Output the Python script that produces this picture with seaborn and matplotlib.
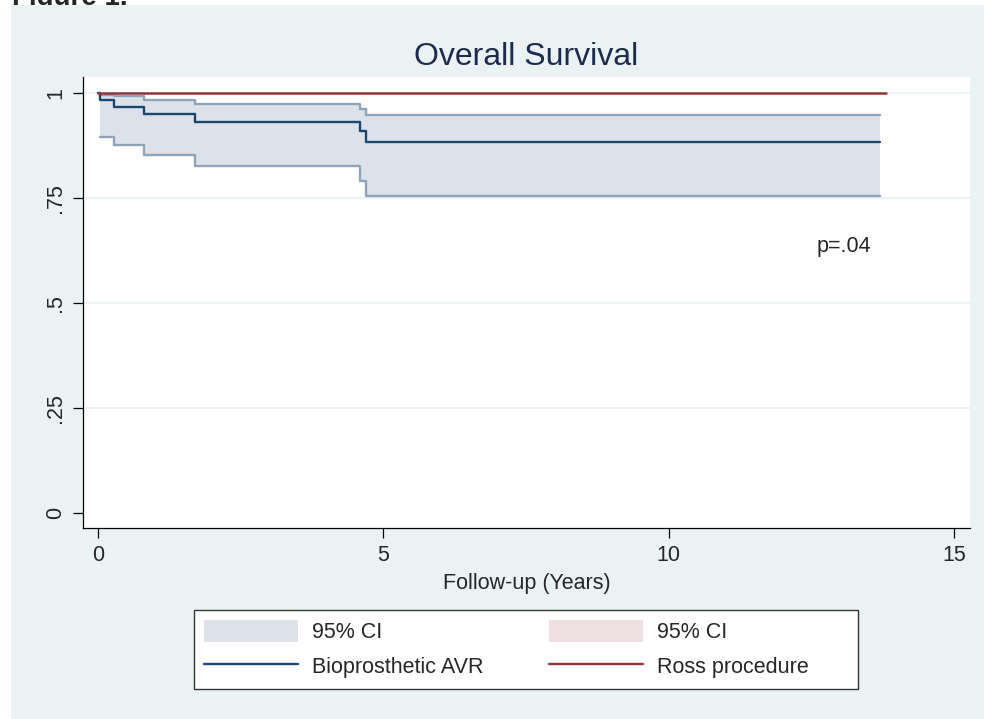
import matplotlib
matplotlib.use('Agg')
import matplotlib.pyplot as plt
import seaborn as sns
from matplotlib.patches import Patch, Rectangle
from matplotlib.lines import Line2D

# Kaplan-Meier estimates
bio_time = [0, 0.03, 0.29, 0.81, 1.70, 4.60, 4.69, 13.70]
bio_surv = [1.0, 0.984, 0.967, 0.950, 0.931, 0.909, 0.884, 0.884]
ci_time = [0.03, 0.29, 0.81, 1.70, 4.60, 4.69, 13.70]
bio_upper = [0.996, 0.992, 0.983, 0.974, 0.961, 0.947, 0.947]
bio_lower = [0.894, 0.876, 0.852, 0.827, 0.790, 0.755, 0.755]
ross_time = [0, 13.8]
ross_surv = [1.0, 1.0]

x_ticks = [0, 5, 10, 15]
y_ticks = [0, 0.25, 0.5, 0.75, 1]
y_ticklabels = ['0', '.25', '.5', '.75', '1']

navy = '#1A476F'
maroon = '#90353B'
ci_fill = '#DCE1EA'
ci_line = '#8FA4BA'
ross_ci = '#EEDFE0'
bg = '#EAF2F3'

sns.set_style('white')
plt.rcParams['font.family'] = ['Liberation Sans', 'DejaVu Sans']

fig = plt.figure(figsize=(9.84, 7.19), dpi=100)
fig.patch.set_facecolor('white')
fig.patches.append(Rectangle((11 / 984, 0), 1 - 11 / 984, 1 - 5 / 719,
                             transform=fig.transFigure, facecolor=bg,
                             edgecolor='none', zorder=-1))
fig.text(12 / 984, 1 - 5 / 719, 'Figure 1.', fontsize=20, fontweight='bold',
         va='baseline', zorder=-2)

ax = fig.add_axes([83 / 984, 1 - 528 / 719, 887 / 984, 451 / 719])
ax.set_facecolor('white')

# grid lines
for yv in y_ticks[1:]:
    ax.axhline(yv, color=bg, lw=1.3, zorder=0)

# CI band for bioprosthetic AVR
ax.fill_between(ci_time, bio_lower, bio_upper, step='post', color=ci_fill, lw=0, zorder=1)
sns.lineplot(x=ci_time, y=bio_upper, drawstyle='steps-post', color=ci_line, lw=1.7,
             errorbar=None, ax=ax, zorder=2)
sns.lineplot(x=ci_time, y=bio_lower, drawstyle='steps-post', color=ci_line, lw=1.7,
             errorbar=None, ax=ax, zorder=2)

# survival curves
sns.lineplot(x=bio_time, y=bio_surv, drawstyle='steps-post', color=navy, lw=1.7,
             errorbar=None, ax=ax, zorder=3)
sns.lineplot(x=ross_time, y=ross_surv, drawstyle='steps-post', color=maroon, lw=1.8,
             errorbar=None, ax=ax, zorder=4)

ax.set_xlim(-0.26, 15.28)
ax.set_ylim(-0.036, 1.038)
ax.set_xticks(x_ticks)
ax.set_xticklabels([str(v) for v in x_ticks])
ax.set_yticks(y_ticks)
ax.set_yticklabels(y_ticklabels, rotation=90, va='center')
ax.tick_params(axis='both', length=7.2, width=0.9, color='black', labelsize=15.5,
               direction='out', left=True, bottom=True)
ax.tick_params(axis='y', pad=5)
ax.tick_params(axis='x', pad=5)
sns.despine(ax=ax)
for s in ['left', 'bottom']:
    ax.spines[s].set_linewidth(0.9)
    ax.spines[s].set_color('black')

ax.set_xlabel('Follow-up (Years)', fontsize=15.5, labelpad=5)
ax.set_ylabel('')
ax.set_title('Overall Survival', fontsize=23, color='#1C2B4E', pad=9)
ax.text(12.59, 0.621, 'p=.04', fontsize=15.5, va='baseline')

# legend: frame drawn separately, entries placed inside
fig.patches.append(Rectangle((194 / 984, 1 - 689 / 719), 664 / 984, 79 / 719,
                             transform=fig.transFigure, facecolor='white',
                             edgecolor='#333333', lw=1.0, zorder=1))
handles = [Patch(facecolor=ci_fill, edgecolor='none'),
           Line2D([], [], color=navy, lw=1.7),
           Patch(facecolor=ross_ci, edgecolor='none'),
           Line2D([], [], color=maroon, lw=1.7)]
labels = ['95% CI', 'Bioprosthetic AVR', '95% CI', 'Ross procedure']
leg = fig.legend(handles, labels, ncol=2, loc='upper left',
                 bbox_to_anchor=(204 / 984, 1 - 620 / 719),
                 bbox_transform=fig.transFigure, frameon=False,
                 fontsize=15.5, borderpad=0, borderaxespad=0,
                 handlelength=4.37, handleheight=1.2, handletextpad=0.65,
                 labelspacing=0.55, columnspacing=3.04)
leg.set_zorder(2)

fig.savefig('out.png', dpi=100)
